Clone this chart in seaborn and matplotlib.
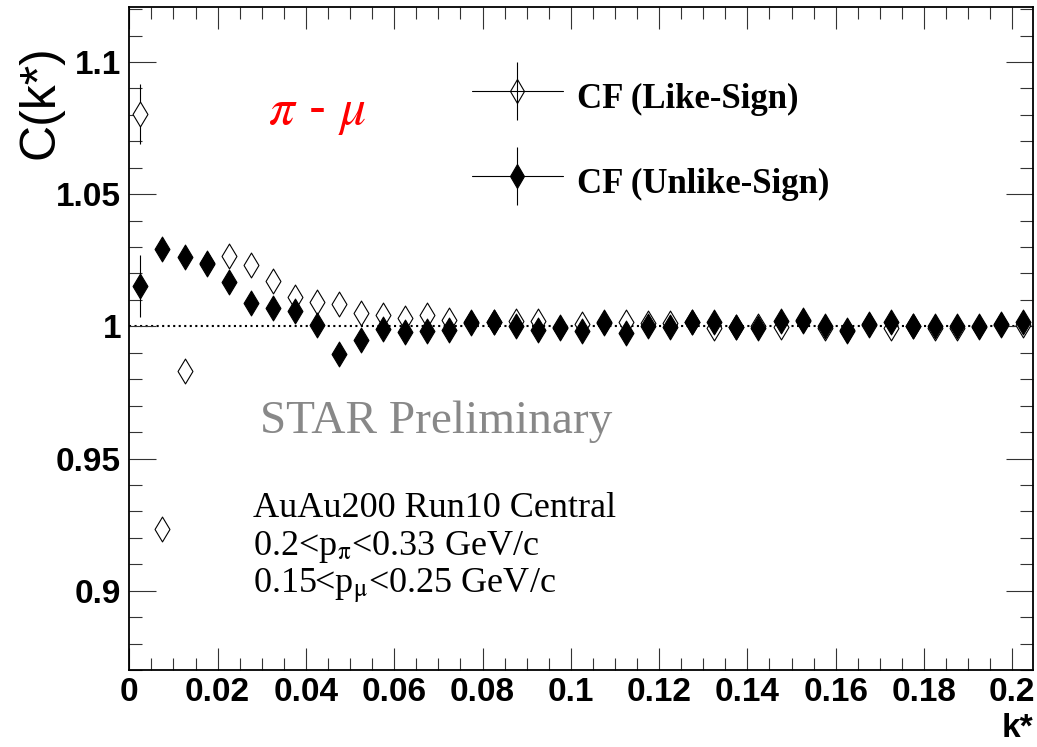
import numpy as np
import matplotlib
matplotlib.use("Agg")
import matplotlib.pyplot as plt
import seaborn as sns
from matplotlib.lines import Line2D
from matplotlib.legend_handler import HandlerTuple
from matplotlib.ticker import MultipleLocator, FuncFormatter

# k* bin centres (bin width 0.005)
kstar = [0.0025, 0.0075, 0.0125, 0.0175, 0.0225, 0.0275, 0.0325, 0.0375, 0.0425, 0.0475,
         0.0525, 0.0575, 0.0625, 0.0675, 0.0725, 0.0775, 0.0825, 0.0875, 0.0925, 0.0975,
         0.1025, 0.1075, 0.1125, 0.1175, 0.1225, 0.1275, 0.1325, 0.1375, 0.1425, 0.1475,
         0.1525, 0.1575, 0.1625, 0.1675, 0.1725, 0.1775, 0.1825, 0.1875, 0.1925, 0.1975,
         0.2025]

cf_like = [1.0803, 0.9234, 0.9830, 1.0235, 1.0268, 1.0233, 1.0170, 1.0111, 1.0094, 1.0086,
           1.0052, 1.0042, 1.0031, 1.0042, 1.0025, 1.0013, 1.0015, 1.0021, 1.0021, 0.9996,
           1.0010, 1.0016, 1.0015, 1.0013, 1.0013, 1.0015, 0.9995, 0.9996, 1.0000, 0.9999,
           1.0025, 0.9995, 0.9987, 1.0005, 0.9995, 1.0000, 0.9995, 0.9995, 1.0000, 1.0005,
           1.0005]
cf_like_err = [0.0113, 0.0035, 0.0030, 0.0028, 0.0026, 0.0024, 0.0022, 0.0020, 0.0019, 0.0018,
               0.0017, 0.0016, 0.0015, 0.0015, 0.0014, 0.0014, 0.0013, 0.0013, 0.0013, 0.0012,
               0.0012, 0.0012, 0.0012, 0.0011, 0.0011, 0.0011, 0.0011, 0.0011, 0.0010, 0.0010,
               0.0010, 0.0010, 0.0010, 0.0010, 0.0010, 0.0010, 0.0010, 0.0010, 0.0010, 0.0010,
               0.0010]

cf_unlike = [1.0152, 1.0293, 1.0262, 1.0240, 1.0167, 1.0089, 1.0069, 1.0060, 1.0004, 0.9897,
             0.9950, 0.9991, 0.9980, 0.9984, 0.9987, 1.0015, 1.0018, 1.0003, 0.9987, 0.9992,
             0.9984, 1.0011, 0.9974, 1.0003, 0.9996, 1.0018, 1.0018, 0.9996, 0.9992, 1.0020,
             1.0020, 1.0003, 0.9981, 1.0009, 1.0015, 1.0003, 1.0003, 1.0003, 0.9996, 1.0009,
             1.0018]
cf_unlike_err = [0.0117, 0.0040, 0.0032, 0.0028, 0.0026, 0.0024, 0.0022, 0.0020, 0.0019, 0.0018,
                 0.0017, 0.0016, 0.0015, 0.0015, 0.0014, 0.0014, 0.0013, 0.0013, 0.0013, 0.0012,
                 0.0012, 0.0012, 0.0012, 0.0011, 0.0011, 0.0011, 0.0011, 0.0011, 0.0010, 0.0010,
                 0.0010, 0.0010, 0.0010, 0.0010, 0.0010, 0.0010, 0.0010, 0.0010, 0.0010, 0.0010,
                 0.0010]

series_labels = ["CF (Like-Sign)", "CF (Unlike-Sign)"]

sns.set_style("ticks")
plt.rcParams["font.family"] = ["Liberation Sans", "DejaVu Sans"]
plt.rcParams["mathtext.fontset"] = "stix"
plt.rcParams["text.color"] = "black"
plt.rcParams["axes.labelcolor"] = "black"
plt.rcParams["xtick.labelcolor"] = "black"
plt.rcParams["ytick.labelcolor"] = "black"

fig = plt.figure(figsize=(10.37, 7.47), dpi=100)
ax = fig.add_axes([0.1247, 0.1031, 0.8715, 0.8871])

ax.axhline(1.0, color="black", ls=":", lw=1.5, zorder=0)

# error bars first, markers on top
ax.errorbar(kstar, cf_like, yerr=cf_like_err, fmt="none", ecolor="black", elinewidth=0.8, zorder=1)
ax.errorbar(kstar, cf_unlike, yerr=cf_unlike_err, fmt="none", ecolor="black", elinewidth=0.8, zorder=1)
sns.scatterplot(x=kstar, y=cf_like, marker="d", s=160, facecolor="white",
                edgecolor="black", linewidth=0.8, ax=ax, zorder=2)
sns.scatterplot(x=kstar, y=cf_unlike, marker="d", s=160, facecolor="black",
                edgecolor="black", linewidth=0.8, ax=ax, zorder=3)

ax.set_xlim(0, 0.2047)
ax.set_ylim(0.87, 1.1207)

ax.xaxis.set_major_locator(MultipleLocator(0.02))
ax.xaxis.set_minor_locator(MultipleLocator(0.005))
ax.yaxis.set_major_locator(MultipleLocator(0.05))
ax.yaxis.set_minor_locator(MultipleLocator(0.01))
fmt = FuncFormatter(lambda v, p: "%g" % round(v, 4))
ax.xaxis.set_major_formatter(fmt)
ax.yaxis.set_major_formatter(fmt)

ax.tick_params(which="both", direction="in", top=True, right=True, width=0.8, color="#333333")
ax.tick_params(axis="x", which="major", length=15.8, pad=5)
ax.tick_params(axis="x", which="minor", length=8.6)
ax.tick_params(axis="y", which="major", length=19.4, pad=6)
ax.tick_params(axis="y", which="minor", length=9.4)
for lab in ax.get_xticklabels() + ax.get_yticklabels():
    lab.set_fontsize(24)
    lab.set_fontweight("bold")
    lab.set_color("black")
for sp in ax.spines.values():
    sp.set_linewidth(1.3)
    sp.set_color("black")

ax.set_xlabel("k*", loc="right", fontsize=24, fontweight="bold", labelpad=4, color="black")
ax.set_ylabel("C(k*)", loc="top", fontsize=36, color="black")
ax.yaxis.set_label_coords(-0.0723, 0.943)

cross = Line2D([], [], color="black", lw=0.8, marker="|", markersize=42, markeredgewidth=0.8)
open_m = Line2D([], [], ls="none", marker="d", markersize=12, mfc="none", mec="black", mew=0.8)
fill_m = Line2D([], [], ls="none", marker="d", markersize=12, mfc="black", mec="black", mew=0.8)
ax.legend([(cross, open_m), (cross, fill_m)], series_labels,
          handler_map={tuple: HandlerTuple(ndivide=1)},
          loc="upper left", bbox_to_anchor=(0.379, 0.8994), frameon=False,
          borderpad=0, borderaxespad=0, handlelength=2.62, handleheight=1.67,
          handletextpad=0.4, labelspacing=1.12, labelcolor="black",
          prop={"family": "Liberation Serif", "weight": "bold", "size": 25})

ax.text(0.1535, 0.824, r"$\pi$ - $\mu$", transform=ax.transAxes, color="red",
        fontsize=37, fontweight="normal", va="baseline")

serif = {"family": "Liberation Serif", "weight": "normal"}
ax.text(0.1449, 0.3576, "STAR Preliminary", transform=ax.transAxes, color="#888888",
        fontsize=34, va="baseline", fontdict=serif)
ax.text(0.137, 0.2309, "AuAu200 Run10 Central", transform=ax.transAxes, color="black",
        fontsize=26, va="baseline", fontdict=serif)
ax.text(0.137, 0.1735, r"0.2<p$_{\mathrm{\pi}}$<0.33 GeV/c", transform=ax.transAxes,
        color="black", fontsize=26, va="baseline", fontdict=serif)
ax.text(0.137, 0.1162, r"0.15<p$_{\mathrm{\mu}}$<0.25 GeV/c", transform=ax.transAxes,
        color="black", fontsize=26, va="baseline", fontdict=serif)

fig.savefig("out.png", dpi=100)
